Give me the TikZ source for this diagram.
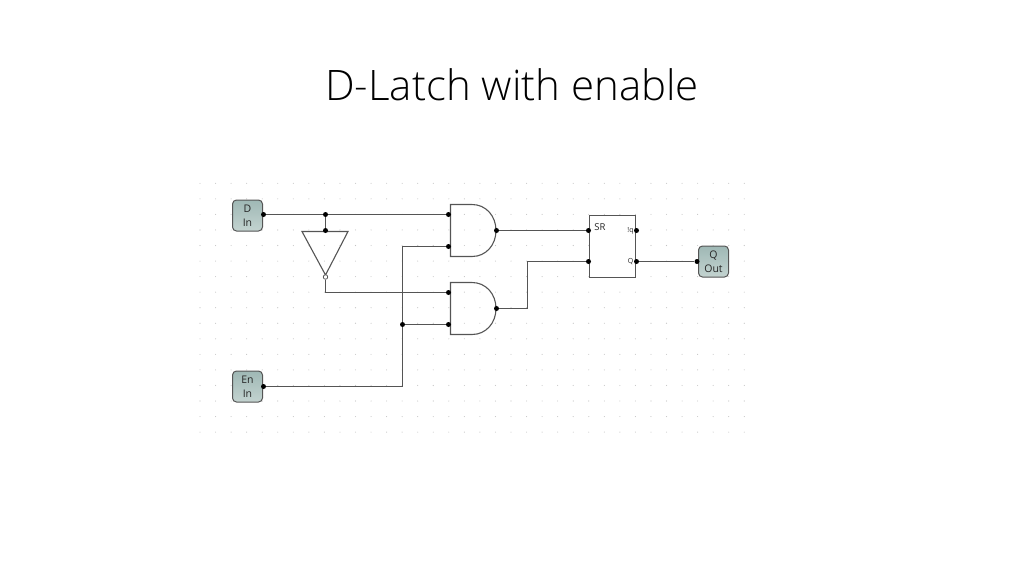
\documentclass[tikz,border=0pt]{standalone}
\usepackage{fontspec}
\setmainfont{Open Sans}
\newfontfamily\titlefont{Open Sans Light}
\usetikzlibrary{positioning}
\definecolor{wirecol}{HTML}{555555}
\definecolor{dotcol}{HTML}{C4C4C4}
\definecolor{iotop}{HTML}{9FB8B5}
\definecolor{iobot}{HTML}{C3D3D0}
\tikzset{
  wire/.style={wirecol, line width=1.2pt},
  outline/.style={wirecol, line width=1.1pt},
  griddot/.style={fill=dotcol},
  pin/.style={circle, fill=black, inner sep=0pt, minimum size=5pt},
  iobox/.style={draw=wirecol, line width=1pt, rounded corners=4pt, left color=iotop, right color=iobot, shading angle=0,
    minimum width=30pt, minimum height=31pt, inner sep=0pt, align=center, font=\fontsize{10.5}{13.5}\selectfont, text=black!85},
  srbox/.style={draw=wirecol, line width=1.1pt, fill=white, minimum width=46pt, minimum height=62pt, inner sep=0pt},
  srtext/.style={inner sep=0pt, text=black!85}
}
\begin{document}
\begin{tikzpicture}[x=1pt,y=-1pt]
\useasboundingbox (0,0) rectangle (1024,576);
\node [inner sep=0pt, text=black, font=\titlefont\fontsize{42}{50}\selectfont] (title) at (512,85) {D-Latch with enable};
% grid
\foreach \x in {0,...,35}
  \foreach \y in {0,...,16}
    \fill [griddot] ({200+15.55*\x},{183.3+15.55*\y}) circle (0.55pt);
% boxes
\node [iobox] (dbox) at (247.5,215.5) {D\\In};
\node [iobox] (enbox) at (247.5,386.5) {En\\In};
\node [iobox] (qbox) at (713.5,261.5) {Q\\Out};
\node [srbox] (srbox) at (612.5,246.5) {};
\node [srtext, font=\fontsize{9.5}{10}\selectfont] (srname) at (600,227.5) {SR};
\node [srtext, font=\fontsize{7}{8}\selectfont] (nqname) at (630.5,230.5) {!q};
\node [srtext, font=\fontsize{7}{8}\selectfont] (qname) at (630.5,261.5) {Q};
% gates
\draw [outline] (450.5,204.5) -- (472,204.5) .. controls (486,204.5) and (496,216) .. (496,230.5) .. controls (496,245) and (486,256.5) .. (472,256.5) -- (450.5,256.5) -- cycle;
\draw [outline] (450.5,282.5) -- (472,282.5) .. controls (486,282.5) and (496,294) .. (496,308.5) .. controls (496,323) and (486,334.5) .. (472,334.5) -- (450.5,334.5) -- cycle;
\draw [outline] (302,231.5) -- (348,231.5) -- (325.5,275) -- cycle;
% pins
\node [pin] (din) at (263.5,214.5) {};
\node [pin] (enin) at (263.5,386.5) {};
\node [pin] (dtap) at (325.5,214.5) {};
\node [pin] (invin) at (325.5,230.5) {};
\node [circle, draw=wirecol, fill=white, line width=0.8pt, inner sep=0pt, minimum size=4.5pt] (invout) at (325.5,277) {};
\node [pin] (enA) at (448.5,214.5) {};
\node [pin] (enB) at (448.5,246.5) {};
\node [pin] (enC) at (448.5,292.5) {};
\node [pin] (enD) at (448.5,324.5) {};
\node [pin] (entap) at (402.5,324.5) {};
\node [pin] (andtop) at (496.5,230.5) {};
\node [pin] (andbot) at (496.5,308.5) {};
\node [pin] (srs) at (588.5,230.5) {};
\node [pin] (srr) at (588.5,261.5) {};
\node [pin] (srnq) at (636.5,230.5) {};
\node [pin] (srq) at (636.5,261.5) {};
\node [pin] (qin) at (697,261.5) {};
% wires
\draw [wire] (din) -- (dtap);
\draw [wire] (dtap) -- (enA);
\draw [wire] (dtap) -- (invin);
\draw [wire] (invout) |- (enC);
\draw [wire] (enin) -| (entap);
\draw [wire] (entap) -- (enD);
\draw [wire] (entap) |- (enB);
\draw [wire] (andtop) -- (srs);
\draw [wire] (andbot) -- (527.5,308.5) |- (srr);
\draw [wire] (srq) -- (qin);
\end{tikzpicture}
\end{document}
